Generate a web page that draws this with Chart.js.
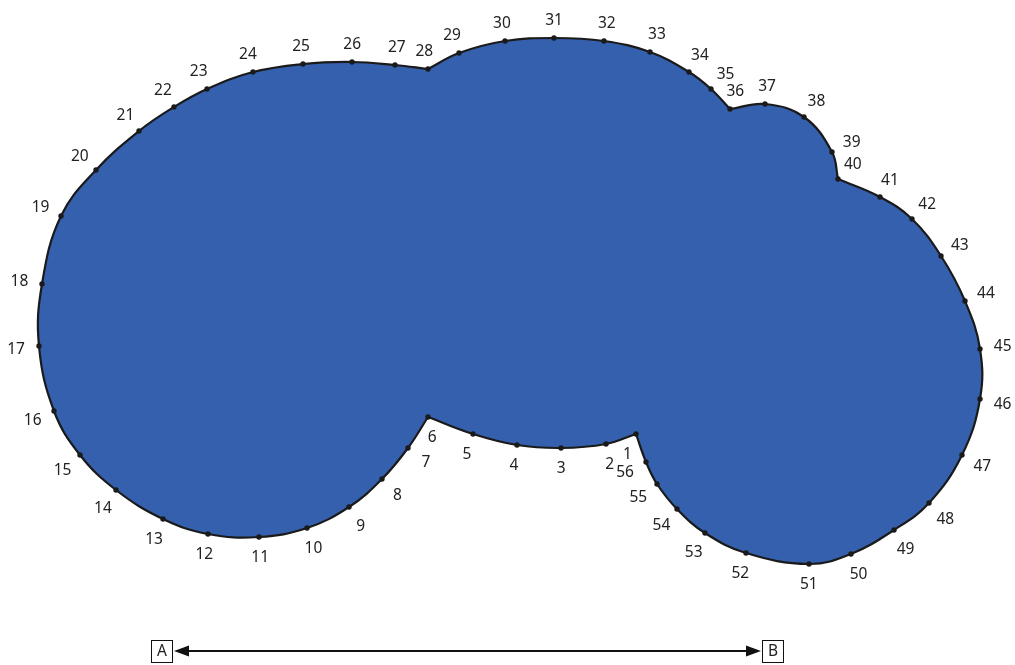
<!DOCTYPE html>
<html>
<head>
<meta charset="utf-8">
<script src="https://cdn.jsdelivr.net/npm/chart.js@4.4.0/dist/chart.umd.min.js"></script>
<style>
  html, body { margin: 0; padding: 0; background: #fff; }
  #wrap { width: 1015px; height: 665px; position: relative; }
</style>
</head>
<body>
<div id="wrap"><canvas id="blob"></canvas></div>
<script>
// outline points, numbered 1..56, in picture units (x right, y down)
var pointNames = [];
for (var n = 1; n <= 56; n++) pointNames.push(String(n));

var outlineX = [636, 606, 561, 517, 473, 428, 408, 382, 349, 307,
                259, 208, 163, 116, 80, 54, 39, 42, 61, 96,
                139, 174, 207, 253, 303, 352, 395, 428, 459, 505,
                554, 604, 650, 689, 711, 730, 765, 804, 832, 838,
                880, 912, 941, 965, 980, 980, 962, 929, 894, 851,
                809, 746, 705, 677, 657, 646];
var outlineY = [434, 444, 448, 445, 434, 417, 448, 479, 507, 528,
                537, 534, 519, 490, 455, 411, 346, 284, 216, 170,
                131, 107, 89, 72, 64, 62, 65, 69, 53, 41,
                38, 41, 52, 72, 89, 109, 104, 117, 152, 179,
                197, 219, 256, 301, 349, 399, 455, 503, 530, 554,
                564, 553, 533, 509, 484, 462];
// corners where the outline is not smooth
var cusps = [1, 6, 28, 36, 40];

// scale A -> B under the shape
var scaleNames = ['A', 'B'];
var scaleX = [162, 773];
var scaleY = 651;

var fillColor = '#3560ad';

// build the closed path; cusp points are doubled so the spline breaks there
var pathData = [];
var pathIdx = [];
for (var i = 0; i < outlineX.length; i++) {
    pathData.push({x: outlineX[i], y: outlineY[i]});
    pathIdx.push(i);
    if (cusps.indexOf(i + 1) >= 0 && i > 0) {
	pathData.push({x: outlineX[i], y: outlineY[i]});
	pathIdx.push(-1);
    }
}
pathData.push({x: outlineX[0], y: outlineY[0]});
pathIdx.push(-1);

var labelPlugin = {
    id: 'pointLabels',
    afterDatasetsDraw: function (chart) {
	var ctx = chart.ctx;
	var xs = chart.scales.x, ys = chart.scales.y;
	var N = outlineX.length;
	ctx.save();
	ctx.font = '15.5px "Noto Sans", "DejaVu Sans", sans-serif';
	ctx.fillStyle = '#222';
	ctx.textAlign = 'center';
	ctx.textBaseline = 'middle';
	for (var i = 0; i < N; i++) {
	    var p = i === 0 ? N - 1 : i - 1;
	    var q = (i + 1) % N;
	    var px = xs.getPixelForValue(outlineX[i]);
	    var py = ys.getPixelForValue(outlineY[i]);
	    var tx = xs.getPixelForValue(outlineX[q]) - xs.getPixelForValue(outlineX[p]);
	    var ty = ys.getPixelForValue(outlineY[q]) - ys.getPixelForValue(outlineY[p]);
	    var len = Math.sqrt(tx * tx + ty * ty);
	    var nx = ty / len, ny = -tx / len;
	    var r = 19 + 4 * Math.abs(nx);
	    ctx.fillText(pointNames[i], px + nx * r, py + ny * r + 1.5);
	}

	// A <-> B scale
	var ax = xs.getPixelForValue(scaleX[0]);
	var bx = xs.getPixelForValue(scaleX[1]);
	var y = ys.getPixelForValue(scaleY);
	ctx.strokeStyle = '#111';
	ctx.lineWidth = 1;
	[ax, bx].forEach(function (cx, k) {
	    ctx.strokeRect(cx - 10.5, y - 10.5, 21, 22);
	    ctx.fillText(scaleNames[k], cx, y + 1);
	});
	var x0 = ax + 12, x1 = bx - 12;
	ctx.lineWidth = 2;
	ctx.beginPath();
	ctx.moveTo(x0 + 10, y);
	ctx.lineTo(x1 - 10, y);
	ctx.stroke();
	ctx.fillStyle = '#111';
	ctx.beginPath();
	ctx.moveTo(x0, y); ctx.lineTo(x0 + 15, y - 5.5); ctx.lineTo(x0 + 15, y + 5.5); ctx.closePath();
	ctx.fill();
	ctx.beginPath();
	ctx.moveTo(x1, y); ctx.lineTo(x1 - 15, y - 5.5); ctx.lineTo(x1 - 15, y + 5.5); ctx.closePath();
	ctx.fill();
	ctx.restore();
    }
};

var ctx = document.getElementById('blob').getContext('2d');
var chart = new Chart(ctx, {
    type: 'scatter',
    data: {
	datasets: [{
	    data: pathData,
	    showLine: true,
	    tension: 0.4,
	    fill: 'shape',
	    backgroundColor: fillColor,
	    borderColor: '#1a1a1a',
	    borderWidth: 2.2,
	    pointRadius: function (c) { return pathIdx[c.dataIndex] < 0 ? 0 : 2.7; },
	    pointBackgroundColor: '#1a1a1a',
	    pointBorderWidth: 0,
	    clip: false
	}]
    },
    options: {
	responsive: true,
	maintainAspectRatio: false,
	animation: false,
	events: [],
	layout: { padding: 0, autoPadding: false },
	plugins: {
	    legend: { display: false },
	    tooltip: { enabled: false }
	},
	scales: {
	    x: { type: 'linear', display: false, min: 0, max: 1015 },
	    y: { type: 'linear', display: false, min: 0, max: 665, reverse: true }
	}
    },
    plugins: [labelPlugin]
});
</script>
</body>
</html>
